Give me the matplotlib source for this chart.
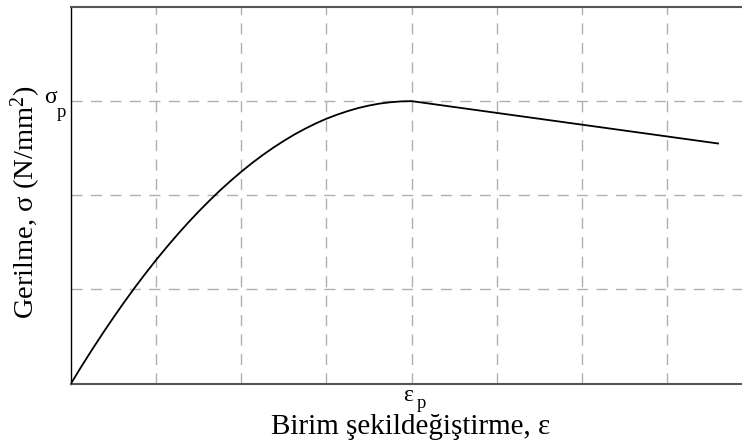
import matplotlib
matplotlib.use("Agg")
import matplotlib.pyplot as plt

plt.rcParams['font.family'] = ['Liberation Serif', 'DejaVu Serif']
plt.rcParams['mathtext.fontset'] = 'custom'
plt.rcParams['mathtext.rm'] = 'Liberation Serif'
plt.rcParams['mathtext.it'] = 'Liberation Serif'
plt.rcParams['mathtext.bf'] = 'Liberation Serif:bold'

# strain (in grid units) and stress
strain = [0.0, 0.125, 0.25, 0.375, 0.5, 0.625, 0.75, 0.875, 1.0, 1.125, 1.25,
          1.375, 1.5, 1.625, 1.75, 1.875, 2.0, 2.125, 2.25, 2.375, 2.5, 2.625,
          2.75, 2.875, 3.0, 3.125, 3.25, 3.375, 3.5, 3.625, 3.75, 3.875, 4.0,
          7.6]
stress = [0.0, 0.185, 0.363, 0.536, 0.703, 0.864, 1.020, 1.169, 1.313, 1.450,
          1.582, 1.708, 1.828, 1.942, 2.051, 2.153, 2.250, 2.341, 2.426, 2.505,
          2.578, 2.646, 2.707, 2.763, 2.813, 2.856, 2.894, 2.927, 2.953, 2.974,
          2.988, 2.997, 3.0, 2.55]

x_ticks = [4.0]
x_tick_labels = [('ε', 'p')]
y_ticks = [3.0]
y_tick_labels = [('σ', 'p')]

x_grid = [1, 2, 3, 4, 5, 6, 7]
y_grid = [1, 2, 3]

fig = plt.figure(figsize=(7.42, 4.43), dpi=100)
ax = fig.add_axes([71/742, (443-383.5)/443, 1 - 71/742, 376.5/443])

for g in x_grid:
    ax.axvline(g, color='#b0b0b0', lw=1.0, ls=(0, (8, 6)), zorder=1)
for g in y_grid:
    ax.axhline(g, color='#b0b0b0', lw=1.0, ls=(0, (8, 6)), zorder=1)

ax.plot(strain, stress, color='black', lw=1.3, zorder=3,
        solid_joinstyle='round')

ax.set_xlim(0, 671/85.14)
ax.set_ylim(0, 4)

ax.set_xticks(x_ticks)
ax.set_xticklabels([''] * len(x_ticks))
ax.set_yticks(y_ticks)
ax.set_yticklabels([''] * len(y_ticks))
ax.tick_params(length=0)

# tick labels with a deep subscript
xt = ax.get_xaxis_transform()
for xv, (main, sub) in zip(x_ticks, x_tick_labels):
    ax.annotate(main, (xv, 0), xycoords=xt, xytext=(-3, -17.5),
                textcoords='offset pixels', ha='center', va='baseline',
                fontsize=17, annotation_clip=False)
    ax.annotate(sub, (xv, 0), xycoords=xt, xytext=(5, -24.5),
                textcoords='offset pixels', ha='left', va='baseline',
                fontsize=13.5, annotation_clip=False)
yt = ax.get_yaxis_transform()
for yv, (main, sub) in zip(y_ticks, y_tick_labels):
    ax.annotate(main, (0, yv), xycoords=yt, xytext=(-14, -2),
                textcoords='offset pixels', ha='right', va='baseline',
                fontsize=17, annotation_clip=False)
    ax.annotate(sub, (0, yv), xycoords=yt, xytext=(-5, -16),
                textcoords='offset pixels', ha='right', va='baseline',
                fontsize=13.5, annotation_clip=False)

ax.spines['right'].set_visible(False)
ax.spines['top'].set_color('#555555')
ax.spines['top'].set_linewidth(1.5)
ax.spines['bottom'].set_color('#555555')
ax.spines['bottom'].set_linewidth(1.5)
ax.spines['left'].set_color('black')
ax.spines['left'].set_linewidth(1.0)

ax.set_xlabel('Birim şekildeğiştirme, ε', fontsize=21)
ax.xaxis.set_label_coords((410.5-71)/671, -(434-383.5)/376.5)
ax.xaxis.label.set_va('baseline')
ax.set_ylabel('Gerilme, σ (N/mm$^{2}$)', fontsize=20.5)
ax.yaxis.label.set_rotation_mode('anchor')
ax.yaxis.set_label_coords(-(71-33.5)/671, (383.5-202)/376.5)
ax.yaxis.label.set_va('baseline')

fig.savefig('out.png', dpi=100)
